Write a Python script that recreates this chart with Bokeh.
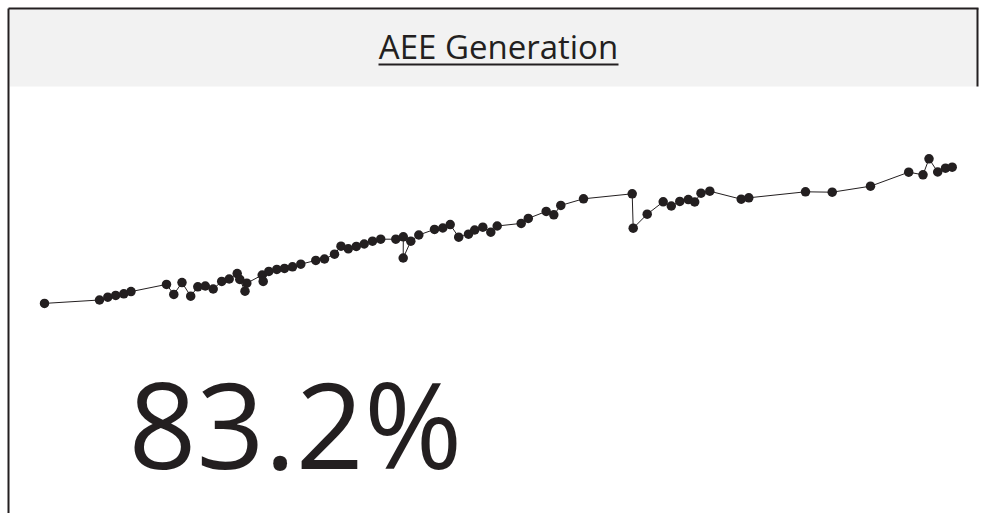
from bokeh.plotting import figure
from bokeh.models import Range1d, Label, ColumnDataSource
from bokeh.embed import file_html
from bokeh.resources import INLINE

# ---- data ----
title_text = "AEE Generation"
latest_text = "83.2%"

days = [0, 55, 63.3, 71.2, 79.3, 86.5, 122, 129.3, 137.5, 146.2,
        153.3, 160.8, 168.7, 177.2, 184.7, 192.7, 195.3, 200.5, 202.3, 217.7,
        218.7, 224.3, 232.3, 240, 248, 256.3, 271.3, 280, 290, 296.5,
        303.8, 311.8, 319.7, 328, 336.2, 351.3, 358.8, 358.7, 366.3, 374.3,
        390, 398.3, 405.7, 414.2, 424, 430.2, 438.3, 446.3, 452.7, 476.7,
        483.8, 501.7, 509.3, 516.3, 539, 587.7, 588.7, 602.7, 618.7, 626.8,
        635.3, 643.8, 650.2, 656.5, 665.3, 696.7, 704.3, 761, 787.7, 826,
        864.2, 878.5, 884.5, 893.2, 901, 907.7]

values = [76.39, 76.56, 76.70, 76.79, 76.87, 76.98, 77.34, 76.84, 77.43, 76.75,
          77.22, 77.26, 77.11, 77.49, 77.61, 77.88, 77.59, 77.00, 77.40, 77.81,
          77.49, 77.99, 78.09, 78.14, 78.22, 78.35, 78.54, 78.61, 78.85, 79.25,
          79.12, 79.24, 79.36, 79.50, 79.60, 79.60, 79.72, 78.66, 79.50, 79.81,
          80.09, 80.16, 80.33, 79.70, 79.85, 80.06, 80.20, 79.95, 80.26, 80.39,
          80.64, 80.99, 80.82, 81.29, 81.62, 81.87, 80.15, 80.85, 81.47, 81.26,
          81.49, 81.58, 81.46, 81.90, 82.00, 81.60, 81.67, 81.97, 81.95, 82.25,
          82.95, 82.82, 83.62, 82.96, 83.15, 83.20]

W, H = 981, 513
INK = "#231f20"

# data range chosen so that the sparkline sits in the card like the reference
X0, X1 = -44, 937
Y_TOP, Y_PER_PX = 91.535, 0.05


def X(px):
    return X0 + px * (X1 - X0) / W


def Y(py):
    return Y_TOP - Y_PER_PX * py


p = figure(width=W, height=H, output_backend="svg", toolbar_location=None,
           x_range=Range1d(X0, X1), y_range=Range1d(Y(H), Y(0)),
           x_axis_location=None, y_axis_location=None, min_border=0)
p.grid.visible = False
p.outline_line_color = None
p.background_fill_color = "white"
p.border_fill_color = "white"

# header band
p.quad(left=[X(9)], right=[X(977)], top=[Y(9)], bottom=[Y(86)],
       fill_color="#f2f2f2", line_color=None)

# card border
p.segment(x0=[X(8), X(8), X(977)], y0=[Y(8), Y(8), Y(8)],
          x1=[X(978), X(8), X(977)], y1=[Y(8), Y(H + 5), Y(86)],
          line_color=INK, line_width=2)

# title + underline
p.add_layout(Label(x=X(498), y=Y(46), text=title_text, text_align="center",
                   text_baseline="alphabetic", text_font="Open Sans",
                   text_font_size="33px", text_color=INK))
p.segment(x0=[X(378)], y0=[Y(64)], x1=[X(618)], y1=[Y(64)],
          line_color=INK, line_width=2)

# sparkline
src = ColumnDataSource(dict(day=days, value=values))
p.line("day", "value", source=src, line_color=INK, line_width=1)
p.scatter("day", "value", source=src, size=9.5, fill_color=INK, line_color=None)

# big latest value
p.add_layout(Label(x=X(128), y=Y(422), text=latest_text, text_align="left",
                   text_baseline="alphabetic", text_font="Open Sans",
                   text_font_size="119px", text_color=INK))

open("out.html", "w").write(file_html(p, INLINE))
